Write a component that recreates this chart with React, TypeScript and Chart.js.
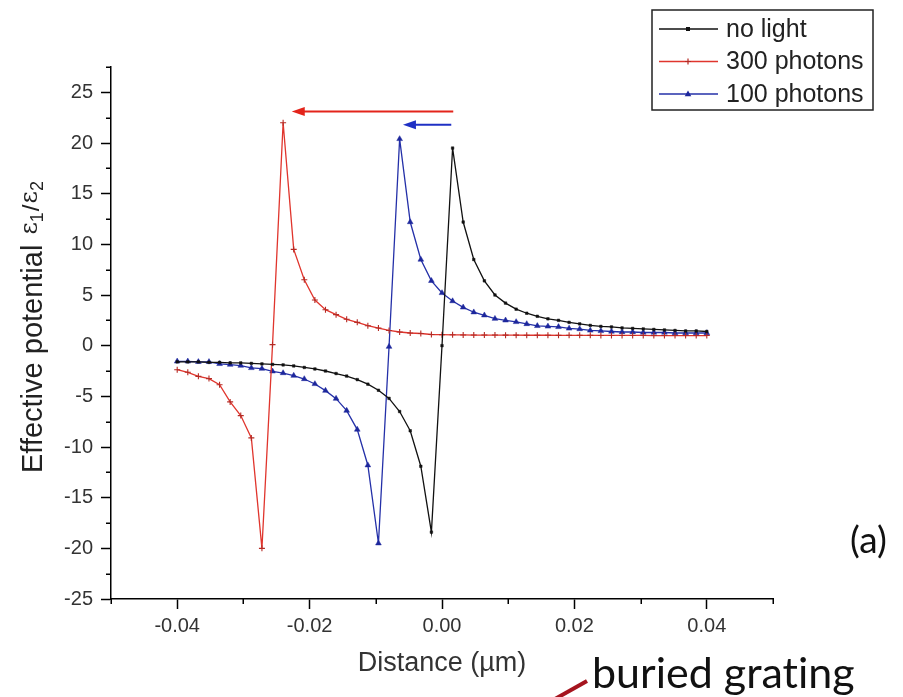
import React, { useEffect, useRef } from 'react';
import { Chart, registerables } from 'chart.js';

Chart.register(...registerables);

// ---- data ----
const distance = [
  -0.04, -0.0384, -0.0368, -0.0352, -0.0336, -0.032, -0.0304, -0.0288, -0.0272, -0.0256,
  -0.024, -0.0224, -0.0208, -0.0192, -0.0176, -0.016, -0.0144, -0.0128, -0.0112, -0.0096,
  -0.008, -0.0064, -0.0048, -0.0032, -0.0016, 0, 0.0016, 0.0032, 0.0048, 0.0064,
  0.008, 0.0096, 0.0112, 0.0128, 0.0144, 0.016, 0.0176, 0.0192, 0.0208, 0.0224,
  0.024, 0.0256, 0.0272, 0.0288, 0.0304, 0.032, 0.0336, 0.0352, 0.0368, 0.0384, 0.04,
];

const noLight = [
  -1.6, -1.6, -1.6, -1.65, -1.65, -1.7, -1.7, -1.75, -1.8, -1.85,
  -1.9, -2.0, -2.15, -2.3, -2.5, -2.75, -3.0, -3.35, -3.8, -4.4,
  -5.2, -6.5, -8.4, -11.9, -18.4, 0.0, 19.5, 12.2, 8.5, 6.4,
  5.0, 4.2, 3.6, 3.2, 2.9, 2.65, 2.5, 2.3, 2.15, 2.0,
  1.9, 1.85, 1.75, 1.7, 1.65, 1.6, 1.55, 1.5, 1.45, 1.45, 1.4,
];

const photons300 = [
  -2.37, -2.63, -3.03, -3.25, -3.85, -5.55, -6.9, -9.1, -20.0, 0.1,
  22.0, 9.5, 6.5, 4.5, 3.55, 3.06, 2.6, 2.3, 1.97, 1.74,
  1.5, 1.35, 1.25, 1.2, 1.1, 1.08, 1.07, 1.06, 1.05, 1.05,
  1.05, 1.04, 1.04, 1.03, 1.03, 1.03, 1.02, 1.02, 1.02, 1.02,
  1.01, 1.01, 1.01, 1.01, 1.01, 1.0, 1.0, 1.0, 1.0, 1.0, 1.0,
];

const photons100 = [
  -1.55, -1.55, -1.6, -1.6, -1.8, -1.87, -1.97, -2.2, -2.27, -2.53,
  -2.7, -2.96, -3.29, -3.78, -4.44, -5.23, -6.41, -8.28, -11.8, -19.5,
  -0.1, 20.4, 12.2, 8.5, 6.4, 5.2, 4.4, 3.78, 3.3, 3.0,
  2.66, 2.5, 2.34, 2.14, 1.95, 1.9, 1.85, 1.7, 1.64, 1.5,
  1.45, 1.4, 1.35, 1.35, 1.3, 1.3, 1.3, 1.25, 1.25, 1.25, 1.25,
];

const seriesLabels = ['no light', '300 photons', '100 photons'];

const xMajorTicks = [-0.04, -0.02, 0, 0.02, 0.04];
const xMinorTicks = [-0.05, -0.03, -0.01, 0.01, 0.03, 0.05];
const yMajorTicks = [-25, -20, -15, -10, -5, 0, 5, 10, 15, 20, 25];
const yMinorTicks = [-22.5, -17.5, -12.5, -7.5, -2.5, 2.5, 7.5, 12.5, 17.5, 22.5, 27.5];

// shift arrows (data coordinates): [from x, to x], y level
const redArrowX = [0.0017, -0.0227];
const redArrowY = 23.1;
const blueArrowX = [0.0014, -0.0059];
const blueArrowY = 21.8;

const SANS = "'Liberation Sans', Arial, Helvetica, sans-serif";
const CALI = "Lato, 'Open Sans', sans-serif";

const COL_BLACK = '#111111';
const COL_RED = '#e0352d';
const COL_BLUE = '#2430a8';

function drawMarker(ctx: CanvasRenderingContext2D, style: string, x: number, y: number, color: string) {
  ctx.save();
  ctx.fillStyle = color;
  ctx.strokeStyle = color;
  ctx.lineWidth = 1.2;
  if (style === 'rect') {
    ctx.fillRect(x - 2, y - 2, 4, 4);
  } else if (style === 'cross') {
    ctx.beginPath();
    ctx.moveTo(x - 3, y);
    ctx.lineTo(x + 3, y);
    ctx.moveTo(x, y - 3);
    ctx.lineTo(x, y + 3);
    ctx.stroke();
  } else {
    ctx.beginPath();
    ctx.moveTo(x, y - 3.5);
    ctx.lineTo(x + 3.3, y + 2.2);
    ctx.lineTo(x - 3.3, y + 2.2);
    ctx.closePath();
    ctx.fill();
  }
  ctx.restore();
}

const decorPlugin = {
  id: 'decor',
  afterDraw(chart: any) {
    const { ctx, chartArea } = chart;
    const xs = chart.scales.x;
    const ys = chart.scales.y;
    ctx.save();

    // minor ticks
    ctx.strokeStyle = '#000';
    ctx.lineWidth = 1.5;
    ctx.beginPath();
    xMinorTicks.forEach((v) => {
      const p = Math.round(xs.getPixelForValue(v)) + 0.25;
      ctx.moveTo(p, chartArea.bottom);
      ctx.lineTo(p, chartArea.bottom + 5);
    });
    yMinorTicks.forEach((v) => {
      const p = Math.round(ys.getPixelForValue(v)) + 0.25;
      ctx.moveTo(chartArea.left, p);
      ctx.lineTo(chartArea.left - 5, p);
    });
    ctx.stroke();

    // shift arrows
    const arrow = (xv: number[], yv: number, color: string) => {
      const x1 = xs.getPixelForValue(xv[0]);
      const x2 = xs.getPixelForValue(xv[1]);
      const py = ys.getPixelForValue(yv);
      ctx.strokeStyle = color;
      ctx.fillStyle = color;
      ctx.lineWidth = 2;
      ctx.beginPath();
      ctx.moveTo(x1, py);
      ctx.lineTo(x2 + 8, py);
      ctx.stroke();
      ctx.beginPath();
      ctx.moveTo(x2, py);
      ctx.lineTo(x2 + 13, py - 4.5);
      ctx.lineTo(x2 + 13, py + 4.5);
      ctx.closePath();
      ctx.fill();
    };
    arrow(redArrowX, redArrowY, '#e3241b');
    arrow(blueArrowX, blueArrowY, '#1f30c4');

    // legend
    const lx0 = 652, ly0 = 10, lx1 = 873, ly1 = 110;
    ctx.strokeStyle = '#222';
    ctx.lineWidth = 1.5;
    ctx.strokeRect(lx0, ly0, lx1 - lx0, ly1 - ly0);
    const rows = [29, 61.5, 94];
    chart.data.datasets.forEach((ds: any, i: number) => {
      const y = rows[i];
      ctx.strokeStyle = ds.borderColor;
      ctx.lineWidth = 1.3;
      ctx.beginPath();
      ctx.moveTo(659, y);
      ctx.lineTo(718, y);
      ctx.stroke();
      drawMarker(ctx, ds.pointStyle, 688, y, ds.pointBackgroundColor);
      ctx.fillStyle = '#222';
      ctx.font = `25px ${SANS}`;
      ctx.textAlign = 'left';
      ctx.textBaseline = 'middle';
      ctx.fillText(ds.label, 726, y + 1);
    });

    // y axis title (rotated, with epsilon ratio)
    ctx.save();
    ctx.translate(42, 473);
    ctx.rotate(-Math.PI / 2);
    ctx.fillStyle = '#222';
    ctx.textAlign = 'left';
    ctx.textBaseline = 'alphabetic';
    let cx = 0;
    ctx.font = `29px ${SANS}`;
    const mainTxt = 'Effective potential';
    ctx.fillText(mainTxt, cx, 0);
    cx += ctx.measureText(mainTxt).width + 10;
    const piece = (t: string, font: string, dy: number, extra: number) => {
      ctx.font = font;
      ctx.fillText(t, cx, dy);
      cx += ctx.measureText(t).width + extra;
    };
    piece('ε', `24px 'DejaVu Serif', serif`, -5, 0);
    piece('1', `18px ${SANS}`, 1, 1);
    piece('/', `24px ${SANS}`, -3, 1);
    piece('ε', `24px 'DejaVu Serif', serif`, -5, 0);
    piece('2', `18px ${SANS}`, 1, 0);
    ctx.restore();

    // panel label
    ctx.fillStyle = '#111';
    ctx.font = `37px ${CALI}`;
    ctx.textAlign = 'left';
    ctx.textBaseline = 'alphabetic';
    ctx.fillText('(a)', 850, 553);

    // buried grating note
    ctx.strokeStyle = '#a5141e';
    ctx.lineWidth = 4;
    ctx.beginPath();
    ctx.moveTo(555, 699);
    ctx.lineTo(587, 681);
    ctx.stroke();
    ctx.fillStyle = '#111';
    ctx.font = `43px ${CALI}`;
    ctx.fillText('buried grat\u200Cing', 592, 688);

    ctx.restore();
  },
};

export default function App() {
  const ref = useRef<HTMLCanvasElement | null>(null);

  useEffect(() => {
    if (!ref.current) return;
    const mk = (ys: number[]) => distance.map((x, i) => ({ x, y: ys[i] }));
    const chart = new Chart(ref.current, {
      type: 'line',
      data: {
        datasets: [
          {
            label: seriesLabels[0],
            data: mk(noLight),
            borderColor: COL_BLACK,
            backgroundColor: COL_BLACK,
            pointBackgroundColor: COL_BLACK,
            pointBorderColor: COL_BLACK,
            borderWidth: 1.3,
            pointStyle: 'rect',
            pointRadius: 1.8,
            pointBorderWidth: 0.5,
            tension: 0,
          },
          {
            label: seriesLabels[1],
            data: mk(photons300),
            borderColor: COL_RED,
            backgroundColor: '#b52a24',
            pointBackgroundColor: '#b52a24',
            pointBorderColor: '#b52a24',
            borderWidth: 1.3,
            pointStyle: 'cross',
            pointRadius: 3,
            pointBorderWidth: 1.1,
            tension: 0,
          },
          {
            label: seriesLabels[2],
            data: mk(photons100),
            borderColor: COL_BLUE,
            backgroundColor: '#1d279c',
            pointBackgroundColor: '#1d279c',
            pointBorderColor: '#1d279c',
            borderWidth: 1.3,
            pointStyle: 'triangle',
            pointRadius: 3.3,
            pointBorderWidth: 0.5,
            tension: 0,
          },
        ],
      },
      options: {
        animation: false,
        responsive: true,
        maintainAspectRatio: false,
        devicePixelRatio: 1,
        layout: { padding: { top: 67, right: 130, left: 0, bottom: 0 } },
        plugins: {
          legend: { display: false },
          tooltip: { enabled: false },
        },
        scales: {
          x: {
            type: 'linear',
            min: -0.05,
            max: 0.05,
            afterBuildTicks: (s: any) => {
              s.ticks = xMajorTicks.map((value) => ({ value }));
            },
            afterFit: (s: any) => {
              s.height = 98;
            },
            grid: {
              display: true,
              drawOnChartArea: false,
              drawTicks: true,
              tickLength: 10,
              tickColor: '#000',
              tickWidth: 1.5,
              color: '#000',
            },
            border: { display: true, color: '#000', width: 1.5 },
            ticks: {
              autoSkip: false,
              maxRotation: 0,
              padding: 5,
              color: '#333',
              font: { family: SANS, size: 20 },
              callback: (v: any) => Number(v).toFixed(2),
            },
            title: {
              display: true,
              text: 'Distance (µm)',
              color: '#333',
              font: { family: SANS, size: 27 },
              padding: { top: 0, bottom: 17 },
            },
          },
          y: {
            type: 'linear',
            min: -25,
            max: 27.5,
            afterBuildTicks: (s: any) => {
              s.ticks = yMajorTicks.map((value) => ({ value }));
            },
            afterFit: (s: any) => {
              s.width = 111;
            },
            grid: {
              display: true,
              drawOnChartArea: false,
              drawTicks: true,
              tickLength: 10,
              tickColor: '#000',
              tickWidth: 1.5,
              color: '#000',
            },
            border: { display: true, color: '#000', width: 1.5 },
            ticks: {
              autoSkip: false,
              padding: 8,
              color: '#333',
              font: { family: SANS, size: 20 },
              callback: (v: any) => String(v),
            },
            title: { display: false },
          },
        },
      },
      plugins: [decorPlugin],
    });
    return () => chart.destroy();
  }, []);

  return (
    <div style={{ position: 'absolute', left: 0, top: 0, width: 903, height: 697, background: '#fff' }}>
      <canvas ref={ref} />
    </div>
  );
}
